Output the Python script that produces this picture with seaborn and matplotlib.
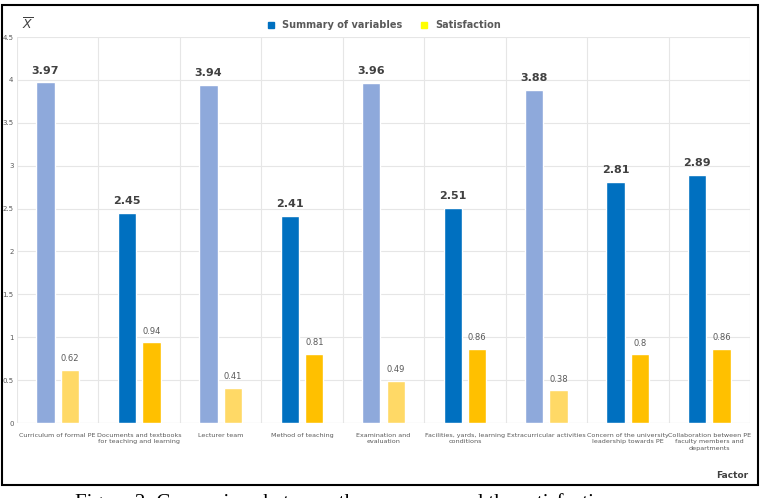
import matplotlib
matplotlib.use("Agg")
import matplotlib.pyplot as plt
import seaborn as sns
import pandas as pd
from matplotlib.patches import Rectangle
from matplotlib.lines import Line2D

# data
factors = [
    "Curriculum of formal PE",
    "Documents and textbooks\nfor teaching and learning",
    "Lecturer team",
    "Method of teaching",
    "Examination and\nevaluation",
    "Facilities, yards, learning\nconditions",
    "Extracurricular activities",
    "Concern of the university\nleadership towards PE",
    "Collaboration between PE\nfaculty members and\ndepartments",
]
summary = [3.97, 2.45, 3.94, 2.41, 3.96, 2.51, 3.88, 2.81, 2.89]
satisfaction = [0.62, 0.94, 0.41, 0.81, 0.49, 0.86, 0.38, 0.8, 0.86]
faded = [True, False, True, False, True, False, True, False, False]
y_ticks = [0, 0.5, 1, 1.5, 2, 2.5, 3, 3.5, 4, 4.5]
y_tick_labels = ["0", "0.5", "1", "1.5", "2", "2.5", "3", "3.5", "4", "4.5"]

df = pd.DataFrame({
    "factor": factors * 2,
    "value": summary + satisfaction,
    "series": ["Summary of variables"] * len(factors) + ["Satisfaction"] * len(factors),
})

blue, light_blue = "#0070C0", "#8EA9DB"
gold, light_gold = "#FFC000", "#FFD966"

sns.set_style("white")
plt.rcParams["font.family"] = ["DejaVu Sans"]

fig = plt.figure(figsize=(7.65, 4.98), dpi=100)
ax = fig.add_axes([17 / 765, 1 - 423 / 498, 733 / 765, 386 / 498])

sns.barplot(data=df, x="factor", y="value", hue="series", ax=ax,
            width=0.6, gap=0.25, legend=False,
            palette=[blue, gold], saturation=1)

# recolour faded groups
for bar, f in zip(ax.containers[0], faded):
    bar.set_facecolor(light_blue if f else blue)
for bar, f in zip(ax.containers[1], faded):
    bar.set_facecolor(light_gold if f else gold)

for bar, v in zip(ax.containers[0], summary):
    ax.text(bar.get_x() + bar.get_width() / 2, v + 0.08, f"{v:.2f}",
            ha="center", va="bottom", fontsize=8, fontweight="bold", color="#404040")
for bar, v in zip(ax.containers[1], satisfaction):
    ax.text(bar.get_x() + bar.get_width() / 2, v + 0.08, f"{v:g}",
            ha="center", va="bottom", fontsize=6, color="#595959")

ax.set_ylim(0, 4.5)
ax.set_xlim(-0.5, len(factors) - 0.5)
ax.set_yticks(y_ticks)
ax.set_yticklabels(y_tick_labels, fontsize=5, color="#595959")
ax.set_xticks(range(len(factors)))
ax.set_xticklabels(factors, fontsize=4.6, color="#595959", linespacing=1.35)
ax.tick_params(axis="x", length=0, pad=7)
ax.tick_params(axis="y", length=0, pad=2.5)
ax.set_xlabel("")
ax.set_ylabel("")

# grid: horizontal at ticks, vertical between categories
for y in y_ticks:
    ax.axhline(y, color="#E6E6E6", lw=0.8, zorder=0)
for x in range(len(factors) + 1):
    ax.axvline(x - 0.5, color="#E6E6E6", lw=0.8, zorder=0)
for s in ax.spines.values():
    s.set_visible(False)
ax.axhline(0, color="#D9D9D9", lw=0.8, zorder=0)

fig.text(22 / 765, 1 - 25 / 498, r"$\overline{X}$", fontsize=9, color="#404040",
         ha="left", va="center", family="Liberation Serif")
fig.text(748 / 765, 1 - 475 / 498, "Factor", fontsize=6.5, fontweight="bold",
         color="#404040", ha="right", va="center")

handles = [
    Line2D([], [], marker="s", ls="", color=blue, markersize=4),
    Line2D([], [], marker="s", ls="", color="#FFFF00", markersize=4),
]
fig.legend(handles, ["Summary of variables", "Satisfaction"], loc="center",
           bbox_to_anchor=(381 / 765, 1 - 25 / 498), ncol=2, frameon=False,
           handletextpad=0.2, columnspacing=1.2,
           labelcolor="#595959", prop={"weight": "bold", "size": 7})

# outer frame and clipped caption (cut off at the bottom edge, as in the source)
fig.patches.append(Rectangle((2 / 765, 1 - 485 / 498), 756 / 765, 480 / 498,
                             transform=fig.transFigure, fill=False,
                             edgecolor="black", lw=1.5))
fig.text(75 / 765, 1 - 493 / 498,
         "Figure 2: Comparison between the summary and the satisfaction",
         fontsize=15, family="Liberation Serif",
         ha="left", va="top", color="black")

fig.savefig("out.png", dpi=100)
